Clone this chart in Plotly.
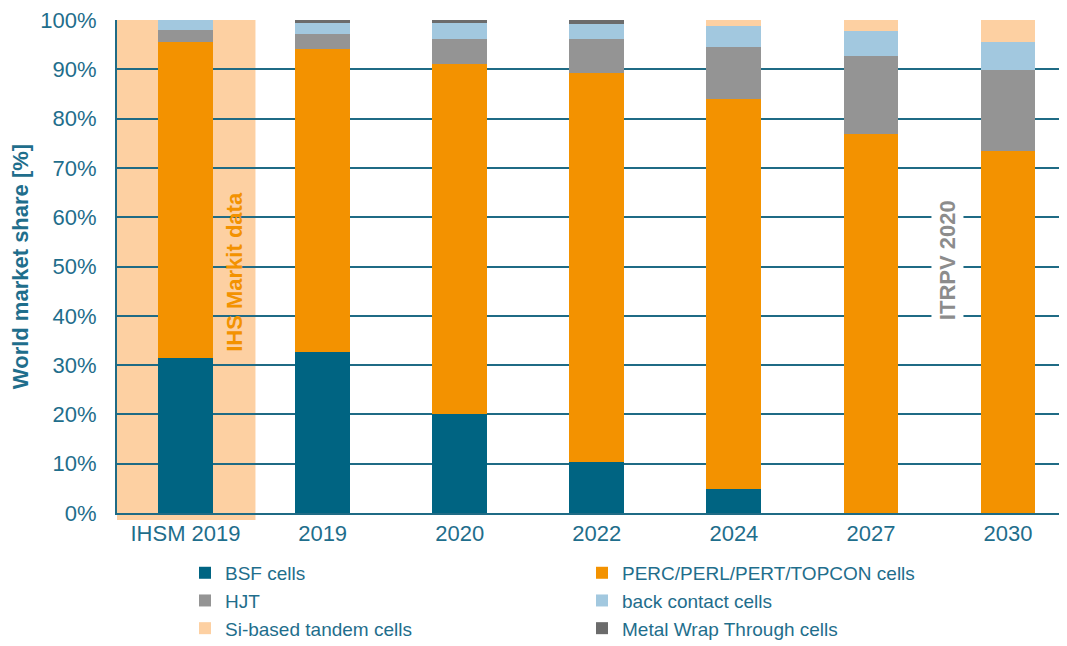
import plotly.graph_objects as go

categories = ["IHSM 2019", "2019", "2020", "2022", "2024", "2027", "2030"]
bsf = [31.4, 32.6, 20.0, 10.3, 4.9, 0, 0]
perc = [64.1, 61.5, 71.1, 78.9, 79.0, 76.8, 73.4]
hjt = [2.5, 3.1, 5.1, 6.9, 10.6, 15.9, 16.5]
back_contact = [2.0, 2.1, 3.1, 3.1, 4.3, 5.0, 5.6]
mwt = [0, 0.7, 0.6, 0.8, 0, 0, 0]
tandem = [0, 0, 0, 0, 1.2, 2.3, 4.5]

series = [
    ("BSF cells", bsf, "#006482", 1),
    ("PERC/PERL/PERT/TOPCON cells", perc, "#F39200", 2),
    ("HJT", hjt, "#949494", 3),
    ("back contact cells", back_contact, "#A2C8DF", 4),
    ("Metal Wrap Through cells", mwt, "#6B6B6B", 6),
    ("Si-based tandem cells", tandem, "#FDD0A2", 5),
]

teal = "#1F6E8C"
grid = "#1F6B85"
font = "Liberation Sans, Arial, sans-serif"

fig = go.Figure()
for name, vals, color, rank in series:
    fig.add_trace(go.Bar(
        x=categories, y=vals, name=name, legendrank=rank,
        marker=dict(color=color, line=dict(width=0)),
        hoverinfo="skip",
    ))

fig.add_shape(type="rect", xref="x", yref="paper", x0=-0.515, x1=0.51,
              y0=-0.014, y1=1.0, fillcolor="#FDD0A2", line=dict(width=0),
              layer="below")

fig.add_annotation(x=0.36, y=48.9, xref="x", yref="y", text="<b>IHS Markit data</b>",
                   textangle=-90, showarrow=False,
                   font=dict(family=font, size=22, color="#F39200"))
fig.add_annotation(x=5.555, y=51.3, xref="x", yref="y", text="<b>ITRPV 2020</b>",
                   textangle=-90, showarrow=False, bgcolor="white", borderpad=3,
                   font=dict(family=font, size=22, color="#8C8C8C"))

fig.update_layout(
    width=1059, height=638,
    barmode="stack", bargap=0.6,
    margin=dict(l=109, r=0, t=12, b=133, autoexpand=False),
    paper_bgcolor="white", plot_bgcolor="rgba(0,0,0,0)",
    font=dict(family=font, size=22, color=teal),
    xaxis=dict(range=[-0.5, 6.43], showgrid=False, showline=True, linecolor=grid,
               linewidth=2, tickfont=dict(size=22, color=teal), ticks="",
               automargin=False),
    yaxis=dict(range=[0, 100], dtick=10, ticksuffix="%", showgrid=True,
               gridcolor=grid, gridwidth=2, showline=True, linecolor=grid,
               linewidth=2, zeroline=False, ticklabelstandoff=14,
               ticklabeloverflow="allow",
               tickfont=dict(size=22, color=teal), automargin=False,
               title=dict(text="<b>World market share [%]</b>", standoff=16,
                          font=dict(size=22, color=teal))),
    legend=dict(orientation="h", x=0.0716, y=-0.083, xanchor="left", yanchor="top",
                entrywidth=352, font=dict(size=19, color=teal),
                traceorder="normal", itemclick=False),
)

fig.write_html("out.html")
